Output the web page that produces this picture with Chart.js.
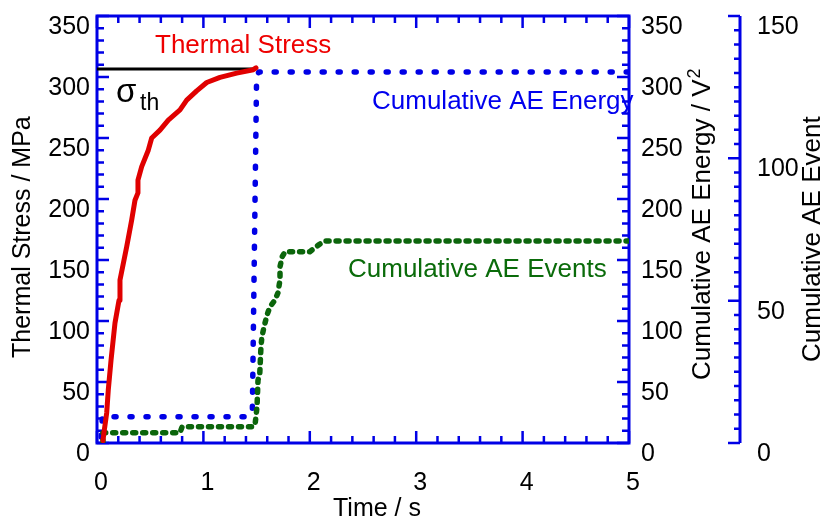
<!DOCTYPE html>
<html><head><meta charset="utf-8">
<script src="https://cdn.jsdelivr.net/npm/chart.js@4.4.1/dist/chart.umd.min.js"></script>
<style>html,body{margin:0;padding:0;background:#fff;}#wrap{width:822px;height:518px;}</style>
</head><body><div id="wrap"><canvas id="c" width="822" height="518"></canvas></div>
<script>
// ---- data ----
const stressTime  = [0.056, 0.069, 0.091, 0.106, 0.132, 0.169, 0.207, 0.216, 0.279, 0.326, 0.357, 0.385, 0.385, 0.42, 0.482, 0.514, 0.592, 0.67, 0.78, 0.843, 0.937, 1.031, 1.156, 1.313, 1.469, 1.494];
const stressValue = [2, 10.7, 24.6, 43.4, 68, 98.4, 117, 133.6, 160.9, 182.8, 199, 205, 215.5, 226.5, 240, 250, 256.5, 264.7, 273, 281, 288.6, 295.5, 299.7, 303.2, 306, 307.5];
const thresholdTime  = [0, 1.49];
const thresholdValue = [306.5, 306.5];
const energyTime  = [0.04, 0.05, 1.42, 1.46, 1.50, 1.52, 5.0];
const energyValue = [5, 21.6, 21.6, 26, 300, 304, 304];
const eventTime  = [0.056, 0.056, 0.78, 0.80, 1.466, 1.485, 1.504, 1.513, 1.53, 1.541, 1.55, 1.57, 1.598, 1.626, 1.673, 1.70, 1.72, 1.72, 1.74, 1.767, 2.0, 2.08, 2.14, 5.0];
const eventValue = [0, 3.6, 3.6, 5.7, 5.7, 6.3, 12.7, 22, 24.6, 33.8, 37.3, 40.8, 45, 47.9, 50.2, 52.7, 57.3, 61.9, 65.4, 67.2, 67.2, 69.5, 71, 71];
const timeTicks   = [0, 1, 2, 3, 4, 5];
const stressTicks = [0, 50, 100, 150, 200, 250, 300, 350];
const energyTicks = [0, 50, 100, 150, 200, 250, 300, 350];
const eventTicks  = [0, 50, 100, 150];

const pts = (xs, ys) => xs.map((v, i) => ({x: v, y: ys[i]}));
const BLUE = '#0000e6';
const FONT = '"Liberation Sans", Arial, sans-serif';

const axisPlugin = {
  id: 'axes',
  beforeDatasetsDraw(chart) {
    const ctx = chart.ctx, ca = chart.chartArea;
    const {x, y, y1, y2} = chart.scales;
    ctx.save();
    ctx.strokeStyle = BLUE;
    ctx.lineCap = 'butt';
    ctx.lineWidth = 2.5;
    ctx.beginPath();
    for (let v = 0; v <= 350; v += 10) {
      const len = v % 50 === 0 ? 12 : 7;
      const p = y.getPixelForValue(v);
      ctx.moveTo(ca.left, p); ctx.lineTo(ca.left + len, p);
      const q = y1.getPixelForValue(v);
      ctx.moveTo(ca.right, q); ctx.lineTo(ca.right - len, q);
    }
    for (let k = 0; k <= 25; k++) {
      const t = k * 0.2;
      const len = k % 5 === 0 ? 12 : 7;
      const p = x.getPixelForValue(t);
      ctx.moveTo(p, ca.bottom); ctx.lineTo(p, ca.bottom - len);
      ctx.moveTo(p, ca.top); ctx.lineTo(p, ca.top + len);
    }
    for (let e = 0; e <= 150; e += 5) {
      const len = e % 50 === 0 ? 12 : 6;
      const p = y2.getPixelForValue(e);
      ctx.moveTo(y2.left, p); ctx.lineTo(y2.left - len, p);
    }
    ctx.stroke();
    ctx.lineWidth = 3;
    ctx.beginPath();
    ctx.moveTo(ca.left, ca.top); ctx.lineTo(ca.left, ca.bottom);
    ctx.moveTo(ca.left - 1.5, ca.bottom); ctx.lineTo(ca.right + 1.5, ca.bottom);
    ctx.moveTo(ca.left - 1.5, ca.top); ctx.lineTo(ca.right + 1.5, ca.top);
    ctx.moveTo(ca.right, ca.top); ctx.lineTo(ca.right, ca.bottom);
    ctx.moveTo(y2.left, y2.getPixelForValue(150)); ctx.lineTo(y2.left, y2.getPixelForValue(0));
    ctx.stroke();
    ctx.restore();
  },
  afterDraw(chart) {
    const ctx = chart.ctx;
    ctx.save();
    ctx.textBaseline = 'alphabetic';
    ctx.textAlign = 'left';
    // in-plot labels
    ctx.font = '26px ' + FONT;
    ctx.fillStyle = '#ee0000'; ctx.fillText('Thermal Stress', 155, 53);
    ctx.fillStyle = '#0000ee'; ctx.fillText('Cumulative AE Energy', 372, 109);
    ctx.fillStyle = '#0a6b0a'; ctx.fillText('Cumulative AE Events', 348, 277);
    ctx.fillStyle = '#000';
    ctx.font = '33px ' + FONT; ctx.fillText('σ', 116, 102);
    ctx.font = '23px ' + FONT; ctx.fillText('th', 140, 110);
    // axis titles
    ctx.font = '25px ' + FONT;
    ctx.fillText('Time / s', 333, 516);
    ctx.save(); ctx.translate(30, 358); ctx.rotate(-Math.PI / 2);
    ctx.fillText('Thermal Stress / MPa', 0, 0); ctx.restore();
    ctx.font = '26px ' + FONT;
    ctx.save(); ctx.translate(710, 380); ctx.rotate(-Math.PI / 2);
    const main = 'Cumulative AE Energy / V';
    ctx.fillText(main, 0, 0);
    const w = ctx.measureText(main).width;
    ctx.font = '18px ' + FONT; ctx.fillText('2', w + 1, -10);
    ctx.restore();
    ctx.font = '26px ' + FONT;
    ctx.save(); ctx.translate(820, 362); ctx.rotate(-Math.PI / 2);
    ctx.fillText('Cumulative AE Event', 0, 0); ctx.restore();
    ctx.restore();
  }
};

const tickFont = {family: FONT, size: 25};
function fixed(prop, v) {
  return s => { s[prop] = v; s.paddingTop = 0; s.paddingBottom = 0; s.paddingLeft = 0; s.paddingRight = 0; };
}

new Chart(document.getElementById('c'), {
  type: 'line',
  data: {
    datasets: [
      {data: pts(stressTime, stressValue), yAxisID: 'y', borderColor: '#e00000', borderWidth: 5, order: 0,
       borderCapStyle: 'round', borderJoinStyle: 'round'},
      {data: pts(thresholdTime, thresholdValue), yAxisID: 'y', borderColor: '#000', borderWidth: 3, order: 1},
      {data: pts(eventTime, eventValue), yAxisID: 'y2', borderColor: '#0b650b', borderWidth: 5.5, order: 2,
       borderDash: [3, 7], borderCapStyle: 'round', borderJoinStyle: 'round'},
      {data: pts(energyTime, energyValue), yAxisID: 'y1', borderColor: '#0000e6', borderWidth: 5.5, order: 3,
       borderDash: [2, 14], borderCapStyle: 'round', borderJoinStyle: 'round'}
    ]
  },
  options: {
    responsive: false, animation: false, devicePixelRatio: 1,
    layout: {padding: {top: 16, left: 0, right: 0, bottom: 0}},
    elements: {point: {radius: 0}, line: {tension: 0}},
    plugins: {legend: {display: false}, tooltip: {enabled: false}},
    scales: {
      x: {type: 'linear', position: 'bottom', min: 0, max: 5,
          afterBuildTicks: s => { s.ticks = timeTicks.map(v => ({value: v})); },
          ticks: {font: tickFont, color: '#000', padding: 25, labelOffset: 4, maxRotation: 0, autoSkip: false},
          grid: {display: false, drawTicks: false}, border: {display: false}, afterFit: fixed('height', 75)},
      y: {type: 'linear', position: 'left', min: 0, max: 350,
          afterBuildTicks: s => { s.ticks = stressTicks.map(v => ({value: v})); },
          ticks: {font: tickFont, color: '#000', padding: 7, labelOffset: 11, autoSkip: false},
          grid: {display: false, drawTicks: false}, border: {display: false}, afterFit: fixed('width', 97)},
      y1: {type: 'linear', position: 'right', min: 0, max: 350, weight: 0,
          afterBuildTicks: s => { s.ticks = energyTicks.map(v => ({value: v})); },
          ticks: {font: tickFont, color: '#000', padding: 12, labelOffset: 11, autoSkip: false},
          grid: {display: false, drawTicks: false}, border: {display: false}, afterFit: fixed('width', 111)},
      y2: {type: 'linear', position: 'right', min: 0, max: 150, weight: 1,
          afterBuildTicks: s => { s.ticks = eventTicks.map(v => ({value: v})); },
          ticks: {font: tickFont, color: '#000', padding: 17, labelOffset: 11, autoSkip: false},
          grid: {display: false, drawTicks: false}, border: {display: false}, afterFit: fixed('width', 82)}
    }
  },
  plugins: [axisPlugin]
});
</script></body></html>
